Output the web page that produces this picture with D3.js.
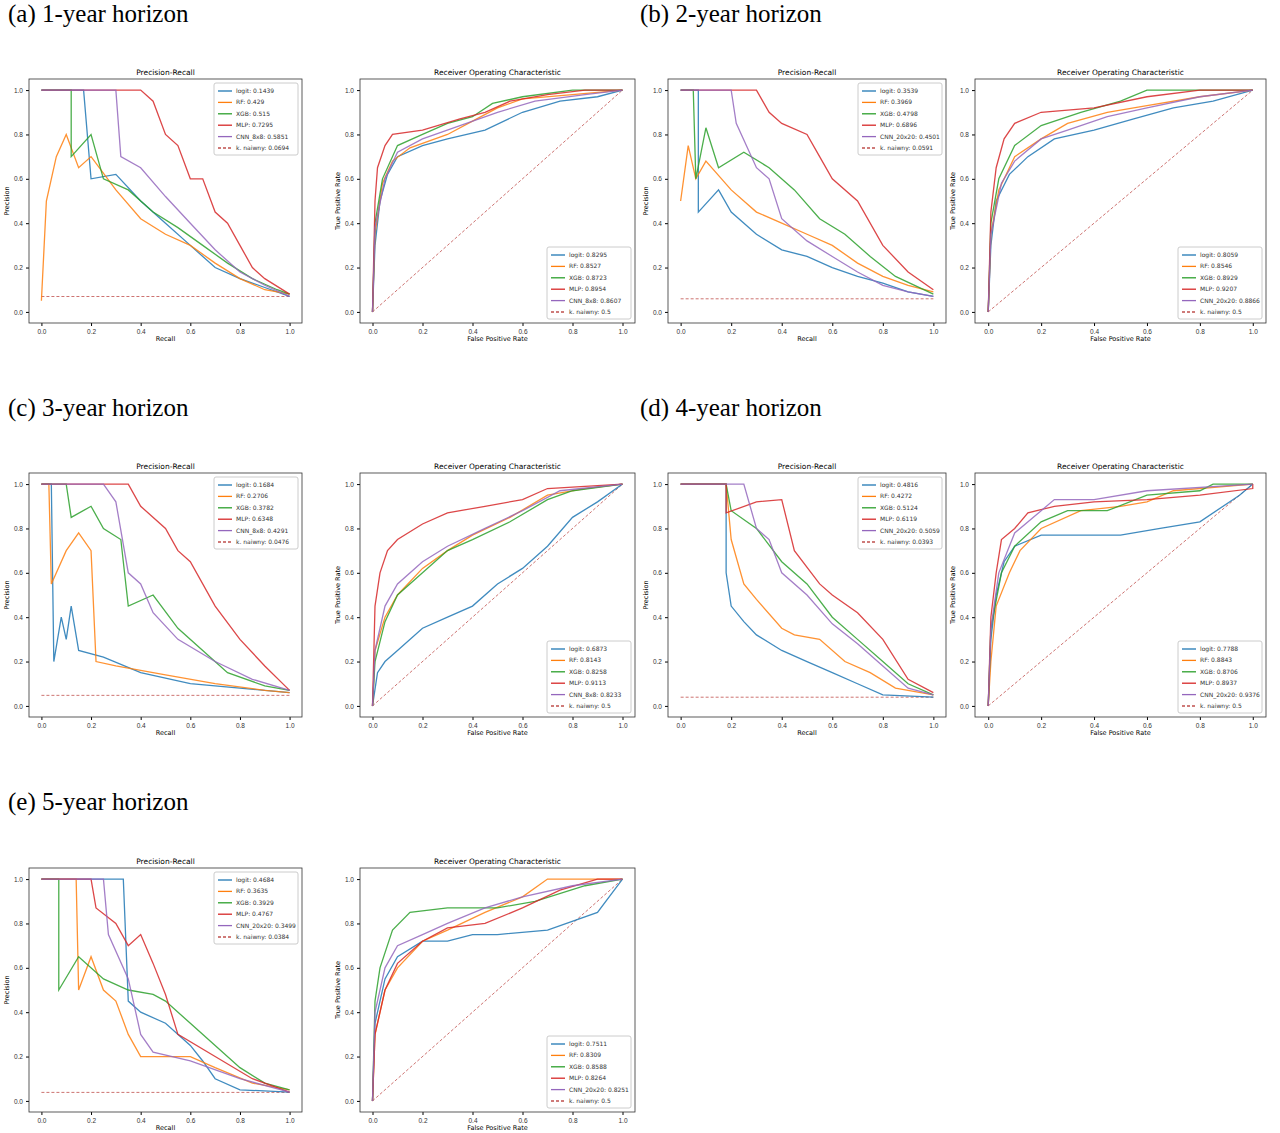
<!DOCTYPE html>
<html><head><meta charset="utf-8">
<script src="https://cdn.jsdelivr.net/npm/d3@7"></script>
<style>body{margin:0;background:#fff}svg{font-family:"DejaVu Sans",sans-serif}</style>
</head><body><div id="chart"></div>
<script>
const W = 1280, H = 1133;
const colors = ["#1f77b4", "#ff7f0e", "#2ca02c", "#d62728", "#9467bd"];
const ticks = [0, 0.2, 0.4, 0.6, 0.8, 1.0];
const horizonTitles = ["(a)   1-year horizon", "(b) 2-year horizon", "(c)   3-year horizon", "(d) 4-year horizon", "(e) 5-year horizon"];

// legend labels and scores per horizon
const cnnNames = ["CNN_8x8", "CNN_20x20", "CNN_8x8", "CNN_20x20", "CNN_20x20"];
const prScores = [
  [0.1439, 0.429, 0.515, 0.7295, 0.5851, 0.0694],
  [0.3539, 0.3969, 0.4798, 0.6896, 0.4501, 0.0591],
  [0.1684, 0.2706, 0.3782, 0.6348, 0.4291, 0.0476],
  [0.4816, 0.4272, 0.5124, 0.6119, 0.5059, 0.0393],
  [0.4684, 0.3635, 0.3929, 0.4767, 0.3499, 0.0384]
];
const rocScores = [
  [0.8295, 0.8527, 0.8723, 0.8954, 0.8607, 0.5],
  [0.8059, 0.8546, 0.8929, 0.9207, 0.8866, 0.5],
  [0.6873, 0.8143, 0.8258, 0.9113, 0.8233, 0.5],
  [0.7788, 0.8843, 0.8706, 0.8937, 0.9376, 0.5],
  [0.7511, 0.8309, 0.8588, 0.8264, 0.8251, 0.5]
];

// curves: [logit, RF, XGB, MLP, CNN], points [x, y]
const prCurves = [
  [
    [[0,1],[0.17,1],[0.2,0.6],[0.3,0.62],[0.4,0.5],[0.5,0.4],[0.6,0.3],[0.7,0.2],[0.8,0.15],[0.9,0.11],[1,0.07]],
    [[0,0.05],[0.02,0.5],[0.06,0.7],[0.1,0.8],[0.15,0.65],[0.2,0.7],[0.3,0.55],[0.4,0.42],[0.5,0.35],[0.6,0.3],[0.7,0.22],[0.8,0.15],[0.9,0.1],[1,0.08]],
    [[0,1],[0.12,1],[0.12,0.7],[0.2,0.8],[0.25,0.6],[0.35,0.55],[0.45,0.45],[0.55,0.38],[0.65,0.3],[0.75,0.22],[0.85,0.15],[0.95,0.1],[1,0.08]],
    [[0,1],[0.4,1],[0.45,0.95],[0.5,0.8],[0.55,0.75],[0.6,0.6],[0.65,0.6],[0.7,0.45],[0.75,0.4],[0.8,0.3],[0.85,0.2],[0.9,0.15],[1,0.08]],
    [[0,1],[0.3,1],[0.32,0.7],[0.4,0.65],[0.5,0.52],[0.6,0.4],[0.7,0.28],[0.8,0.18],[0.9,0.12],[1,0.07]]
  ],
  [
    [[0,1],[0.07,1],[0.07,0.45],[0.15,0.55],[0.2,0.45],[0.3,0.35],[0.4,0.28],[0.5,0.25],[0.6,0.2],[0.7,0.16],[0.8,0.13],[0.9,0.09],[1,0.07]],
    [[0,0.5],[0.03,0.75],[0.06,0.6],[0.1,0.68],[0.2,0.55],[0.3,0.45],[0.4,0.4],[0.5,0.35],[0.6,0.3],[0.7,0.22],[0.8,0.16],[0.9,0.12],[1,0.09]],
    [[0,1],[0.05,1],[0.06,0.6],[0.1,0.83],[0.15,0.65],[0.25,0.72],[0.35,0.65],[0.45,0.55],[0.55,0.42],[0.65,0.35],[0.75,0.25],[0.85,0.16],[1,0.08]],
    [[0,1],[0.3,1],[0.35,0.9],[0.4,0.85],[0.5,0.8],[0.55,0.7],[0.6,0.6],[0.7,0.5],[0.8,0.3],[0.9,0.18],[1,0.1]],
    [[0,1],[0.2,1],[0.22,0.85],[0.3,0.65],[0.35,0.6],[0.4,0.42],[0.5,0.32],[0.6,0.25],[0.7,0.18],[0.8,0.12],[0.9,0.09],[1,0.07]]
  ],
  [
    [[0,1],[0.04,1],[0.05,0.2],[0.08,0.4],[0.1,0.3],[0.12,0.45],[0.15,0.25],[0.25,0.22],[0.4,0.15],[0.6,0.1],[0.8,0.08],[1,0.06]],
    [[0,1],[0.03,1],[0.04,0.55],[0.1,0.7],[0.15,0.78],[0.2,0.7],[0.22,0.2],[0.3,0.18],[0.5,0.14],[0.7,0.1],[0.9,0.07],[1,0.06]],
    [[0,1],[0.1,1],[0.12,0.85],[0.2,0.9],[0.25,0.8],[0.32,0.75],[0.35,0.45],[0.45,0.5],[0.55,0.35],[0.65,0.25],[0.75,0.15],[0.9,0.09],[1,0.07]],
    [[0,1],[0.35,1],[0.4,0.9],[0.5,0.8],[0.55,0.7],[0.6,0.65],[0.7,0.45],[0.8,0.3],[0.9,0.18],[1,0.07]],
    [[0,1],[0.25,1],[0.3,0.92],[0.35,0.6],[0.4,0.55],[0.45,0.42],[0.55,0.3],[0.7,0.2],[0.85,0.12],[1,0.07]]
  ],
  [
    [[0,1],[0.18,1],[0.18,0.6],[0.2,0.45],[0.25,0.38],[0.3,0.32],[0.4,0.25],[0.5,0.2],[0.6,0.15],[0.7,0.1],[0.8,0.05],[1,0.04]],
    [[0,1],[0.18,1],[0.2,0.75],[0.25,0.55],[0.3,0.48],[0.4,0.35],[0.45,0.32],[0.55,0.3],[0.65,0.2],[0.75,0.15],[0.85,0.08],[1,0.05]],
    [[0,1],[0.18,1],[0.2,0.88],[0.3,0.8],[0.4,0.65],[0.5,0.55],[0.6,0.4],[0.7,0.3],[0.8,0.2],[0.9,0.1],[1,0.05]],
    [[0,1],[0.18,1],[0.18,0.87],[0.3,0.92],[0.4,0.93],[0.45,0.7],[0.55,0.55],[0.6,0.5],[0.7,0.42],[0.8,0.3],[0.9,0.12],[1,0.06]],
    [[0,1],[0.25,1],[0.3,0.8],[0.35,0.75],[0.4,0.6],[0.5,0.5],[0.6,0.37],[0.7,0.28],[0.8,0.18],[0.9,0.08],[1,0.05]]
  ],
  [
    [[0,1],[0.33,1],[0.35,0.45],[0.4,0.4],[0.5,0.35],[0.6,0.25],[0.65,0.18],[0.7,0.1],[0.8,0.05],[1,0.04]],
    [[0,1],[0.14,1],[0.15,0.5],[0.2,0.65],[0.25,0.5],[0.3,0.45],[0.35,0.3],[0.4,0.2],[0.6,0.2],[0.7,0.15],[0.85,0.08],[1,0.05]],
    [[0,1],[0.07,1],[0.07,0.5],[0.15,0.65],[0.25,0.55],[0.35,0.5],[0.45,0.48],[0.5,0.45],[0.6,0.35],[0.7,0.25],[0.8,0.15],[0.9,0.08],[1,0.05]],
    [[0,1],[0.2,1],[0.22,0.87],[0.3,0.8],[0.35,0.7],[0.4,0.75],[0.45,0.62],[0.5,0.48],[0.55,0.3],[0.7,0.2],[0.85,0.1],[1,0.04]],
    [[0,1],[0.25,1],[0.27,0.75],[0.35,0.55],[0.4,0.3],[0.45,0.22],[0.6,0.18],[0.8,0.1],[1,0.04]]
  ]
];
const rocCurves = [
  [
    [[0,0],[0.01,0.3],[0.03,0.5],[0.06,0.62],[0.1,0.7],[0.2,0.75],[0.3,0.78],[0.45,0.82],[0.6,0.9],[0.75,0.95],[0.9,0.97],[1,1]],
    [[0,0],[0.01,0.35],[0.04,0.58],[0.08,0.68],[0.15,0.74],[0.3,0.8],[0.4,0.86],[0.5,0.92],[0.6,0.96],[0.8,0.98],[1,1]],
    [[0,0],[0.01,0.4],[0.04,0.6],[0.1,0.75],[0.2,0.8],[0.3,0.85],[0.4,0.88],[0.48,0.94],[0.6,0.97],[0.8,1],[1,1]],
    [[0,0],[0.01,0.5],[0.02,0.65],[0.05,0.75],[0.08,0.8],[0.2,0.82],[0.35,0.87],[0.45,0.9],[0.55,0.95],[0.7,0.98],[0.85,1],[1,1]],
    [[0,0],[0.01,0.38],[0.05,0.6],[0.1,0.72],[0.2,0.78],[0.35,0.84],[0.5,0.9],[0.65,0.95],[0.85,0.98],[1,1]]
  ],
  [
    [[0,0],[0.01,0.3],[0.03,0.5],[0.08,0.62],[0.15,0.7],[0.25,0.78],[0.4,0.82],[0.55,0.87],[0.7,0.92],[0.85,0.95],[1,1]],
    [[0,0],[0.01,0.35],[0.04,0.55],[0.1,0.7],[0.2,0.78],[0.3,0.85],[0.45,0.9],[0.6,0.93],[0.8,0.97],[1,1]],
    [[0,0],[0.01,0.4],[0.04,0.6],[0.1,0.75],[0.2,0.84],[0.35,0.9],[0.5,0.95],[0.6,1],[1,1]],
    [[0,0],[0.01,0.45],[0.03,0.65],[0.06,0.78],[0.1,0.85],[0.2,0.9],[0.4,0.92],[0.6,0.97],[0.8,1],[1,1]],
    [[0,0],[0.01,0.35],[0.05,0.58],[0.1,0.68],[0.2,0.78],[0.3,0.82],[0.45,0.88],[0.6,0.92],[0.8,0.97],[1,1]]
  ],
  [
    [[0,0],[0.02,0.15],[0.05,0.2],[0.1,0.25],[0.2,0.35],[0.3,0.4],[0.4,0.45],[0.5,0.55],[0.6,0.62],[0.7,0.72],[0.8,0.85],[0.9,0.92],[1,1]],
    [[0,0],[0.01,0.25],[0.05,0.4],[0.1,0.5],[0.2,0.62],[0.3,0.7],[0.4,0.77],[0.55,0.85],[0.7,0.95],[0.85,0.98],[1,1]],
    [[0,0],[0.01,0.2],[0.05,0.38],[0.1,0.5],[0.2,0.6],[0.3,0.7],[0.4,0.75],[0.55,0.83],[0.7,0.93],[0.8,0.97],[1,1]],
    [[0,0],[0.01,0.45],[0.03,0.6],[0.06,0.7],[0.1,0.75],[0.2,0.82],[0.3,0.87],[0.45,0.9],[0.6,0.93],[0.7,0.98],[1,1]],
    [[0,0],[0.01,0.25],[0.05,0.45],[0.1,0.55],[0.2,0.65],[0.3,0.72],[0.45,0.8],[0.6,0.88],[0.75,0.97],[1,1]]
  ],
  [
    [[0,0],[0.01,0.3],[0.03,0.5],[0.06,0.65],[0.1,0.72],[0.2,0.77],[0.5,0.77],[0.65,0.8],[0.8,0.83],[0.95,0.95],[1,1]],
    [[0,0],[0.01,0.2],[0.03,0.45],[0.08,0.6],[0.12,0.7],[0.2,0.8],[0.35,0.88],[0.5,0.9],[0.6,0.92],[0.7,0.97],[1,1]],
    [[0,0],[0.01,0.35],[0.05,0.6],[0.1,0.72],[0.2,0.83],[0.3,0.88],[0.45,0.88],[0.6,0.95],[0.8,0.97],[0.85,1],[1,1]],
    [[0,0],[0.01,0.4],[0.03,0.6],[0.05,0.75],[0.1,0.8],[0.15,0.87],[0.25,0.9],[0.4,0.92],[0.6,0.93],[0.8,0.95],[1,0.98],[1,1]],
    [[0,0],[0.01,0.35],[0.04,0.6],[0.1,0.78],[0.2,0.88],[0.25,0.93],[0.4,0.93],[0.6,0.97],[1,1]]
  ],
  [
    [[0,0],[0.01,0.35],[0.05,0.55],[0.1,0.65],[0.2,0.72],[0.3,0.72],[0.4,0.75],[0.5,0.75],[0.7,0.77],[0.9,0.85],[1,1]],
    [[0,0],[0.01,0.3],[0.05,0.5],[0.1,0.6],[0.2,0.72],[0.3,0.77],[0.45,0.85],[0.6,0.92],[0.7,1],[1,1]],
    [[0,0],[0.01,0.45],[0.03,0.6],[0.08,0.77],[0.15,0.85],[0.3,0.87],[0.5,0.87],[0.65,0.9],[0.85,0.97],[1,1]],
    [[0,0],[0.01,0.3],[0.05,0.5],[0.1,0.62],[0.2,0.72],[0.3,0.78],[0.45,0.8],[0.6,0.87],[0.75,0.95],[0.9,1],[1,1]],
    [[0,0],[0.01,0.4],[0.05,0.6],[0.1,0.7],[0.2,0.75],[0.3,0.8],[0.45,0.87],[0.6,0.92],[0.8,0.97],[1,1]]
  ]
];

const svg = d3.select("#chart").append("svg").attr("width", W).attr("height", H);

// layout of the five horizons (top-left of each row block)
const rowTop = [79, 473, 868];
const colLeft = [[29, 360], [668, 975]];
const widths = [[273, 275], [278, 291]];
const titlePos = [[8, 22], [640, 22], [8, 416], [640, 416], [8, 810]];
const plotH = 244;

horizonTitles.forEach((t, i) => {
  svg.append("text").attr("x", titlePos[i][0]).attr("y", titlePos[i][1])
    .attr("font-family", "Liberation Serif, serif").attr("font-size", 25).text(t);
});

function drawPanel(x0, y0, w, kind, curves, scores, cnn) {
  const g = svg.append("g").attr("transform", `translate(${x0},${y0})`);
  const x = d3.scaleLinear().domain([-0.05, 1.05]).range([0, w]);
  const y = d3.scaleLinear().domain([-0.05, 1.05]).range([plotH, 0]);
  g.append("g").attr("transform", `translate(0,${plotH})`)
    .call(d3.axisBottom(x).tickValues(ticks).tickFormat(d3.format(".1f")).tickSize(3))
    .call(a => a.selectAll("text").attr("font-size", 6.5).attr("fill", "#333"));
  g.append("g")
    .call(d3.axisLeft(y).tickValues(ticks).tickFormat(d3.format(".1f")).tickSize(3))
    .call(a => a.selectAll("text").attr("font-size", 6.5).attr("fill", "#333"));
  g.selectAll(".domain").remove();
  g.append("rect").attr("width", w).attr("height", plotH).attr("fill", "none").attr("stroke", "#333").attr("stroke-width", 0.8);
  g.append("text").attr("x", w / 2).attr("y", -4).attr("text-anchor", "middle").attr("font-size", 7.5)
    .text(kind === "pr" ? "Precision-Recall" : "Receiver Operating Characteristic");
  g.append("text").attr("x", w / 2).attr("y", plotH + 18).attr("text-anchor", "middle").attr("font-size", 6.5)
    .text(kind === "pr" ? "Recall" : "False Positive Rate");
  g.append("text").attr("transform", `translate(-20,${plotH / 2}) rotate(-90)`).attr("text-anchor", "middle").attr("font-size", 6.5)
    .text(kind === "pr" ? "Precision" : "True Positive Rate");

  const line = d3.line().x(d => x(d[0])).y(d => y(d[1]));
  const base = kind === "pr" ? [[0, scores[5]], [1, scores[5]]] : [[0, 0], [1, 1]];
  g.append("path").attr("d", line(base)).attr("fill", "none").attr("stroke", "#c0504d")
    .attr("stroke-dasharray", "3,2").attr("stroke-width", 1).attr("opacity", 0.8);
  curves.forEach((c, i) => {
    g.append("path").attr("d", line(c)).attr("fill", "none").attr("stroke", colors[i])
      .attr("stroke-width", 1.3).attr("opacity", 0.85);
  });

  const names = ["logit", "RF", "XGB", "MLP", cnn, "k. naiwny"];
  const lw = 84, lh = 72;
  const lx = w - lw - 4, ly = kind === "pr" ? 4 : plotH - lh - 4;
  const lg = g.append("g").attr("transform", `translate(${lx},${ly})`);
  lg.append("rect").attr("width", lw).attr("height", lh).attr("fill", "#fff").attr("stroke", "#ccc").attr("rx", 2);
  names.forEach((n, i) => {
    const yy = 8 + i * 11.4;
    lg.append("line").attr("x1", 4).attr("x2", 18).attr("y1", yy).attr("y2", yy)
      .attr("stroke", i < 5 ? colors[i] : "#c0504d").attr("stroke-width", 1.3)
      .attr("stroke-dasharray", i < 5 ? null : "3,2");
    lg.append("text").attr("x", 22).attr("y", yy + 2).attr("font-size", 6).attr("fill", "#333")
      .text(`${n}: ${scores[i]}`);
  });
}

for (let h = 0; h < 5; h++) {
  const row = Math.floor(h / 2), col = h % 2;
  drawPanel(colLeft[col][0], rowTop[row], widths[col][0], "pr", prCurves[h], prScores[h], cnnNames[h]);
  drawPanel(colLeft[col][1], rowTop[row], widths[col][1], "roc", rocCurves[h], rocScores[h], cnnNames[h]);
}
</script></body></html>
